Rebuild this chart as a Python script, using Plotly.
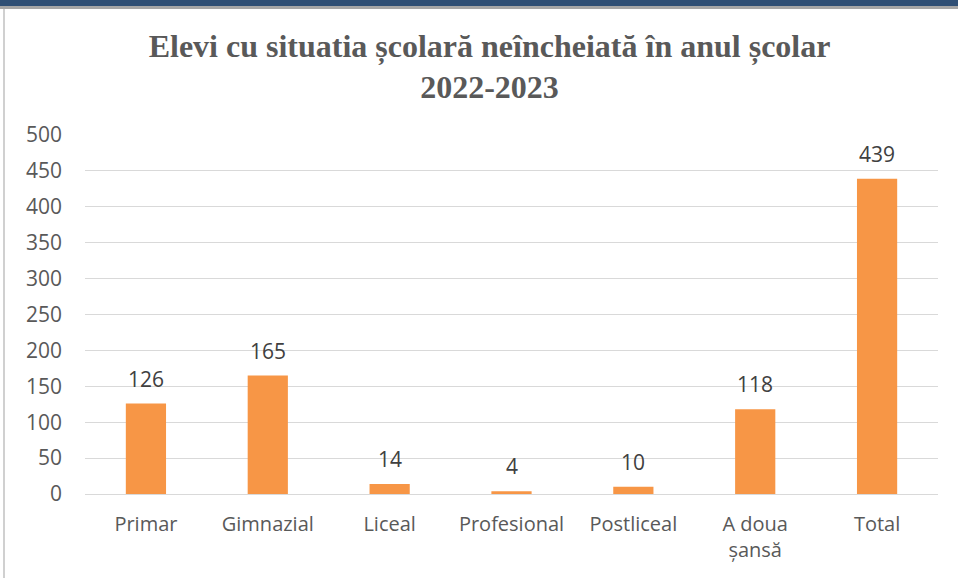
import plotly.graph_objects as go

categories = ["Primar", "Gimnazial", "Liceal", "Profesional", "Postliceal", "A doua<br>șansă", "Total"]
values = [126, 165, 14, 4, 10, 118, 439]
y_ticks = [0, 50, 100, 150, 200, 250, 300, 350, 400, 450, 500]
title_text = "Elevi cu situatia școlară neîncheiată în anul școlar<br>2022-2023"

W, H = 958, 578
L, R, T, B = 85, 20, 135, 84
pw, ph = W - L - R, H - T - B

def px_x(p):
    return (p - L) / pw

def px_y(p):
    return 1 - (p - T) / ph

sans = "Open Sans, Liberation Sans, sans-serif"

fig = go.Figure(go.Bar(
    x=categories, y=values,
    marker=dict(color="#F79646", line=dict(width=0)),
    hoverinfo="x+y",
))

for c, v in zip(categories, values):
    fig.add_annotation(x=c, y=v, text=str(v), showarrow=False, yanchor="middle", yshift=25,
                       font=dict(family=sans, size=21, color="#404040"))

fig.update_layout(
    width=W, height=H,
    margin=dict(l=L, r=R, t=T, b=B),
    paper_bgcolor="white", plot_bgcolor="white",
    bargap=0.67,
    showlegend=False,
    title=dict(text=title_text, x=0.511, xanchor="center", y=0.902, yanchor="top",
               font=dict(family="Liberation Serif, Times New Roman, serif", size=32, color="#595959", weight="bold")),
    xaxis=dict(showgrid=False, showline=False, ticks="", ticklabelstandoff=16,
               tickfont=dict(family=sans, size=20, color="#595959")),
    yaxis=dict(range=[0, 500], tickvals=y_ticks, showgrid=True, gridcolor="#d9d9d9", gridwidth=1,
               zeroline=True, zerolinecolor="#d9d9d9", zerolinewidth=1, showline=False, ticks="",
               ticklabelstandoff=22,
               tickfont=dict(family=sans, size=21, color="#595959")),
    shapes=[
        dict(type="rect", xref="paper", yref="paper", x0=px_x(0), x1=px_x(W), y0=px_y(6), y1=px_y(0),
             fillcolor="#2f4f75", line=dict(width=0), layer="above"),
        dict(type="rect", xref="paper", yref="paper", x0=px_x(0), x1=px_x(W), y0=px_y(9), y1=px_y(6),
             fillcolor="#a6a6a6", line=dict(width=0), layer="above"),
        dict(type="line", xref="paper", yref="paper", x0=px_x(4), x1=px_x(4), y0=px_y(H), y1=px_y(9),
             line=dict(color="#d0d0d0", width=2), layer="above"),
    ],
)

fig.write_html("out.html", config={"displayModeBar": False},
               post_script="document.body.style.margin='0';document.body.style.overflow='hidden';")
